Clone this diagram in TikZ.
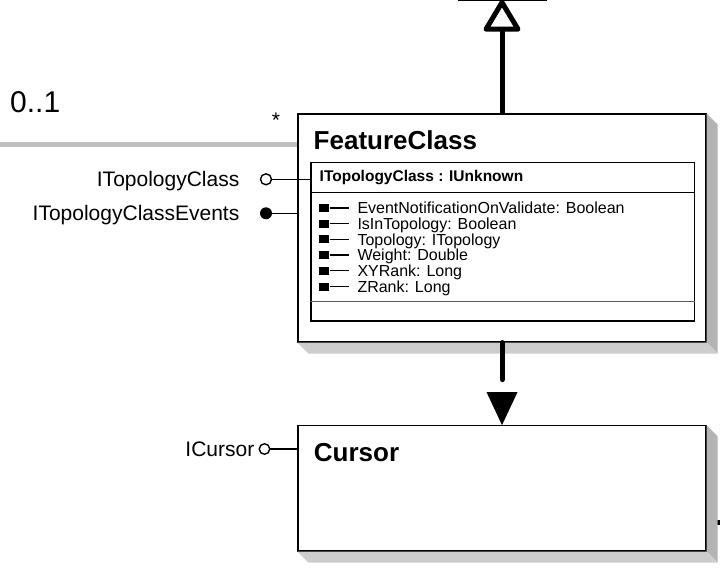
\documentclass[tikz,border=0pt]{standalone}
\usepackage{fontspec}
\setmainfont{Liberation Sans}
\usepackage{xcolor}
\usepackage{tikz}

\definecolor{shadowdark}{HTML}{B4B4B4}
\definecolor{shadowlight}{HTML}{CDCDCD}
\definecolor{assocgray}{HTML}{C0C0C0}

\begin{document}
\begin{tikzpicture}[x=1pt, y=-1pt,
		classbox/.style={draw=black, line width=1.1pt, fill=white, inner sep=0pt},
		ifacebox/.style={draw=black, line width=1.6pt, inner sep=0pt},
		classtitle/.style={font=\fontsize{26}{30}\selectfont\bfseries, inner sep=0pt, anchor=base west},
		member/.style={font=\fontsize{16}{18}\selectfont, inner sep=0pt, inner xsep=8pt, text height=11.5pt, text depth=0pt, anchor=west},
		bullet/.style={fill=black, minimum width=10pt, minimum height=8pt, inner sep=0pt},
		iname/.style={font=\fontsize{21}{24}\selectfont, inner sep=0pt, anchor=base east},
		lollipop/.style={circle, draw=black, line width=1.4pt, fill=white, minimum size=11pt, inner sep=0pt},
		eventpop/.style={circle, fill=black, minimum size=12pt, inner sep=0pt},
		wire/.style={line width=1.3pt},
		thickline/.style={line width=5pt},
	]
				\useasboundingbox (0,0) rectangle (720,572);
				
				%Association
				\coordinate (assocend) at (0,145);
				\node[font=\fontsize{30}{34}\selectfont, inner sep=0pt, anchor=base west] (mult01) at (10,113) {0..1};
				\node[font=\fontsize{21}{24}\selectfont, inner sep=0pt, anchor=base] (multstar) at (276,128) {*};
				
				%FeatureClass
				\node[classbox, minimum width=408pt, minimum height=228pt] (fc) at (502,228) {};
				\draw[assocgray, line width=5pt] (assocend) -- (assocend -| fc.west);
				\fill[shadowdark] (fc.north east) -- ++(11,11) -- ([shift={(11,11)}]fc.south east) -- (fc.south east) -- cycle;
				\fill[shadowlight] (fc.south west) -- ++(11,11) -- ([shift={(11,11)}]fc.south east) -- (fc.south east) -- cycle;
				\node[classtitle] (fctitle) at (313.5,150) {FeatureClass};
				
				%Interface box
				\node[ifacebox, minimum width=383.6pt, minimum height=158pt] (ifc) at (502.5,241.7) {};
				\draw[line width=1pt] (ifc.west |- 0,192.3) -- (ifc.east |- 0,192.3);
				\draw[line width=1pt, black!65] (ifc.west |- 0,301.7) -- (ifc.east |- 0,301.7);
				\node[font=\fontsize{15.5}{18}\selectfont\bfseries, inner sep=0pt, anchor=base west] (ifchdr) at (319.5,181.7) {ITopologyClass : IUnknown};
				
				%Members
				\foreach \n [count=\i from 0] in {EventNotificationOnValidate: Boolean, IsInTopology: Boolean, Topology: ITopology, Weight: Double, XYRank: Long, ZRank: Long} {
					\node[bullet] (b\i) at (324.3, 208+15.7*\i) {};
					\node[member] (m\i) at (349.3, 208+15.7*\i) {\n};
					\draw[wire] (b\i.east) -- (m\i.west);
				}
				
				%Interfaces
				\node[lollipop] (itc) at (266,179.3) {};
				\node[iname] (itcname) at (239.5,186.5) {ITopologyClass};
				\draw[wire] (itc.east) -- (itc.east -| ifc.west);
				\node[eventpop] (itce) at (266,213.3) {};
				\node[iname] (itcename) at (239.5,220.5) {ITopologyClassEvents};
				\draw[wire] (itce.east) -- (itce.east -| fc.west);
				
				%Generalization
				\coordinate (parent) at (502,0);
				\draw[line width=2pt] (458,0) -- (547,0);
				\draw[thickline, shorten >=29pt] (fc.north) -- (parent);
				\draw[thickline, line join=round, fill=white] (parent) ++(0,2.5) -- ++(16,26.7) -- ++(-32,0) -- cycle;
				
				%Cursor
				\coordinate (offpage) at (720,522);
				\node[classbox, minimum width=408pt, minimum height=125.3pt] (cur) at (502,488.3) {};
				\draw[line width=5pt] (cur.east |- offpage) -- (offpage);
				\fill[shadowdark] (cur.north east) -- ++(11,11) -- ([shift={(11,11)}]cur.south east) -- (cur.south east) -- cycle;
				\fill[shadowlight] (cur.south west) -- ++(11,11) -- ([shift={(11,11)}]cur.south east) -- (cur.south east) -- cycle;
				\node[classtitle] (curtitle) at (313.7,461.7) {Cursor};
				\node[lollipop, minimum size=10.5pt] (icur) at (264.5,449) {};
				\node[iname] (icurname) at (254.5,456.5) {ICursor};
				\draw[wire] (icur.east) -- (icur.east -| cur.west);
				
				%Navigation
				\draw[thickline, line cap=round, shorten >=45.5pt] (fc.south) -- (cur.north);
				\fill (cur.north) -- ++(-15.5,-33) -- ++(31,0) -- cycle;
			\end{tikzpicture}
\end{document}
